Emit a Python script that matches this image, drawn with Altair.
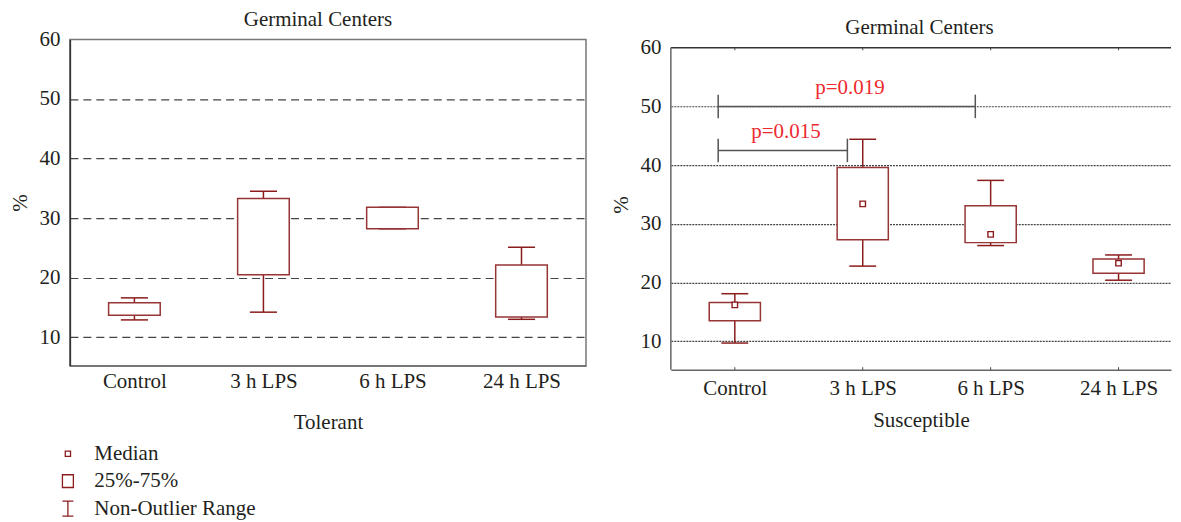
import json
import altair as alt
import pandas as pd

# ---------------- data ----------------
groups = ["Control", "3 h LPS", "6 h LPS", "24 h LPS"]

# Tolerant (left panel): non-outlier min, 25%, 75%, non-outlier max
tol_min = [12.9, 14.2, 28.2, 13.0]
tol_q1 = [13.7, 20.5, 28.2, 13.4]
tol_q3 = [15.8, 33.3, 31.8, 22.1]
tol_max = [16.6, 34.5, 31.8, 25.1]

# Susceptible (right panel)
sus_min = [9.7, 22.8, 26.3, 20.4]
sus_q1 = [13.5, 27.3, 26.8, 21.6]
sus_median = [16.2, 33.4, 28.2, 23.3]
sus_q3 = [16.6, 39.6, 33.1, 24.0]
sus_max = [18.1, 44.4, 37.4, 24.7]

# significance brackets (right panel)
cmp_from = ["Control", "Control"]
cmp_to = ["3 h LPS", "6 h LPS"]
cmp_y = [42.5, 50.0]
cmp_label = ["p=0.015", "p=0.019"]

legend_items = ["Median", "25%-75%", "Non-Outlier Range"]
y_ticks = [10, 20, 30, 40, 50, 60]

# ---------------- styles ----------------
FONT = "Liberation Serif"
TEXT = "#231f20"
BOX = "#973535"
WHISK = "#8b1c1c"
RED = "#ee2a2f"
FS = 21

idx = list(range(len(groups)))
label_expr = json.dumps(groups) + "[datum.value]"

tol_df = pd.DataFrame({"i": idx, "group": groups, "lo": tol_min, "q1": tol_q1,
                       "q3": tol_q3, "hi": tol_max})
sus_df = pd.DataFrame({"i": idx, "group": groups, "lo": sus_min, "q1": sus_q1,
                       "med": sus_median, "q3": sus_q3, "hi": sus_max})
cmp_df = pd.DataFrame({"a": [groups.index(g) for g in cmp_from],
                       "b": [groups.index(g) for g in cmp_to],
                       "y": cmp_y, "label": cmp_label})
leg_df = pd.DataFrame({"item": legend_items})

legend_shapes = [
    "M-0.35,-0.35H0.35V0.35H-0.35Z",
    "M-0.73,-0.85H0.73V0.85H-0.73Z",
    "M-0.73,-1H0.73M0,-1V1M-0.73,1H0.73",
]


def x_axis(title_text, label_pad, title_pad, domain_color):
    return alt.Axis(values=idx, labelExpr=label_expr, grid=False, ticks=False,
                    domainColor=domain_color, domainWidth=1.5,
                    labelFont=FONT, labelFontSize=FS, labelColor=TEXT,
                    labelPadding=label_pad, labelFlush=False, labelOverlap=False,
                    title=title_text, titleFont=FONT, titleFontSize=FS,
                    titleFontWeight="normal", titleColor=TEXT, titlePadding=title_pad)


def y_axis(grid_dash, grid_color, domain, label_pad, title_pad):
    return alt.Axis(values=y_ticks, grid=True, gridDash=grid_dash, gridColor=grid_color,
                    gridWidth=1.2,
                    gridOpacity={"condition": {"test": f"datum.value >= {y_ticks[-1]}",
                                               "value": 0}, "value": 1},
                    ticks=False, domain=domain, domainColor="#333",
                    domainWidth=1.5, labelFont=FONT, labelFontSize=FS, labelColor=TEXT,
                    labelPadding=label_pad, labelFlush=False,
                    title="%", titleFont=FONT, titleFontSize=FS,
                    titleFontWeight="normal", titleColor=TEXT, titlePadding=title_pad)


def legend_layer(xs, ys, lx, ly):
    return alt.Chart(leg_df).transform_calculate(
        px="0", py="30").transform_filter("false").mark_point().encode(
        x=alt.X("px:Q", scale=xs),
        y=alt.Y("py:Q", scale=ys),
        shape=alt.Shape("item:N",
                        scale=alt.Scale(domain=legend_items, range=legend_shapes),
                        legend=alt.Legend(orient="none", legendX=lx, legendY=ly,
                                          direction="vertical", title=None,
                                          labelFont=FONT, labelFontSize=FS,
                                          labelColor=TEXT, labelOffset=16,
                                          labelLimit=400,
                                          symbolSize=225, symbolStrokeColor=WHISK,
                                          symbolFillColor="white", symbolStrokeWidth=1.3,
                                          symbolOpacity=1, rowPadding=5.5, padding=0))
    )


def box_layers(df, xs, ys, xax, yax):
    base = alt.Chart(df).transform_calculate(
        bl="datum.i - 0.2", br="datum.i + 0.2",
        cl="datum.i - 0.105", cr="datum.i + 0.105")
    X = alt.X("i:Q", scale=xs, axis=xax)
    Y = alt.Y("hi:Q", scale=ys, axis=yax)
    w_up = base.mark_rule(color=WHISK, strokeWidth=1.5).encode(x=X, y=Y, y2="q3:Q")
    w_dn = base.mark_rule(color=WHISK, strokeWidth=1.5).encode(
        x=alt.X("i:Q", scale=xs), y=alt.Y("lo:Q", scale=ys), y2="q1:Q")
    cap_hi = base.mark_rule(color=WHISK, strokeWidth=1.5).encode(
        x=alt.X("cl:Q", scale=xs), x2="cr:Q", y=alt.Y("hi:Q", scale=ys))
    cap_lo = base.mark_rule(color=WHISK, strokeWidth=1.5).encode(
        x=alt.X("cl:Q", scale=xs), x2="cr:Q", y=alt.Y("lo:Q", scale=ys))
    box = base.mark_rect(fill="white", stroke=BOX, strokeWidth=1.5).encode(
        x=alt.X("bl:Q", scale=xs), x2="br:Q", y=alt.Y("q1:Q", scale=ys), y2="q3:Q")
    return [w_up, w_dn, cap_hi, cap_lo, box]


# ---------------- left panel (Tolerant) ----------------
xs_l = alt.Scale(domain=[-0.5, 3.5], nice=False, zero=False)
ys_l = alt.Scale(domain=[5.19, 60], nice=False, zero=False)

left = alt.layer(
    *box_layers(tol_df, xs_l, ys_l,
                x_axis("Tolerant", 5, 20, "#777"),
                y_axis([8, 5], "#444", True, 10, 8)),
    legend_layer(xs_l, ys_l, -12.5, 404.5),
).properties(
    width=517, height=327,
    title=alt.Title("Germinal Centers", font=FONT, fontSize=FS, fontWeight="normal",
                    color=TEXT, offset=-2, dx=-10, anchor="middle", frame="group"),
    view=alt.ViewBackground(stroke="#777", strokeWidth=1.5),
)

# ---------------- right panel (Susceptible) ----------------
XMAX_R = 3.41
YMIN_R, YMAX_R = 5.14, 61.41
xs_r = alt.Scale(domain=[-0.5, XMAX_R], nice=False, zero=False)
ys_r = alt.Scale(domain=[YMIN_R, YMAX_R], nice=False, zero=False)

frame = alt.Chart(pd.DataFrame({"v": [y_ticks[-1]]})).transform_calculate(
    xl="-0.5", xr=str(XMAX_R), yb=str(YMIN_R))
frame_top = frame.mark_rule(color="#333", strokeWidth=1.5).encode(
    x=alt.X("xl:Q", scale=xs_r), x2="xr:Q", y=alt.Y("v:Q", scale=ys_r))
frame_left = frame.mark_rule(color="#666", strokeWidth=1.5).encode(
    x=alt.X("xl:Q", scale=xs_r), y=alt.Y("yb:Q", scale=ys_r), y2="v:Q")

# small inward category ticks on the bottom and top frame lines
tick_base = alt.Chart(sus_df).transform_calculate(
    b0=str(YMIN_R), b1=str(YMIN_R + 0.45),
    t0=str(y_ticks[-1]), t1=str(y_ticks[-1] - 0.45))
tick_bot = tick_base.mark_rule(color="#444", strokeWidth=1).encode(
    x=alt.X("i:Q", scale=xs_r), y=alt.Y("b0:Q", scale=ys_r), y2="b1:Q")
tick_top = tick_base.mark_rule(color="#444", strokeWidth=1).encode(
    x=alt.X("i:Q", scale=xs_r), y=alt.Y("t0:Q", scale=ys_r), y2="t1:Q")

med = alt.Chart(sus_df).mark_square(size=30, fill="white", stroke=WHISK,
                                    strokeWidth=1.4, opacity=1).encode(
    x=alt.X("i:Q", scale=xs_r), y=alt.Y("med:Q", scale=ys_r))

br = alt.Chart(cmp_df).transform_calculate(
    x1="datum.a - 0.13", x2="datum.b - 0.12", xm="(datum.a + datum.b) / 2 - 0.1",
    ylo="datum.y - 2", yhi="datum.y + 2")
br_h = br.mark_rule(color="#555", strokeWidth=1.5).encode(
    x=alt.X("x1:Q", scale=xs_r), x2="x2:Q", y=alt.Y("y:Q", scale=ys_r))
br_l = br.mark_rule(color="#555", strokeWidth=1.5).encode(
    x=alt.X("x1:Q", scale=xs_r), y=alt.Y("ylo:Q", scale=ys_r), y2="yhi:Q")
br_r = br.mark_rule(color="#555", strokeWidth=1.5).encode(
    x=alt.X("x2:Q", scale=xs_r), y=alt.Y("ylo:Q", scale=ys_r), y2="yhi:Q")
br_t = br.mark_text(color=RED, font=FONT, fontSize=FS, baseline="alphabetic",
                    align="center", dy=-12.5).encode(
    x=alt.X("xm:Q", scale=xs_r), y=alt.Y("y:Q", scale=ys_r), text="label:N")

right = alt.layer(
    *box_layers(sus_df, xs_r, ys_r,
                x_axis("Susceptible", 8, 11, "#666"),
                y_axis([2, 1], "#444", False, 10, 8)),
    med, frame_top, frame_left, tick_bot, tick_top, br_h, br_l, br_r, br_t,
    legend_layer(xs_r, ys_r, 3.5, 404.5),
).properties(
    width=501, height=331,
    title=alt.Title("Germinal Centers", font=FONT, fontSize=FS, fontWeight="normal",
                    color=TEXT, offset=0, dy=1.7, dx=-1.5, anchor="middle",
                    frame="group"),
    view=alt.ViewBackground(stroke="transparent"),
)

chart = alt.hconcat(left, right, spacing=85, bounds="flush").configure(
    font=FONT, padding={"left": 1, "top": 0, "right": 0, "bottom": 0},
    background="white")

chart.save("out.html", embed_options={"renderer": "svg", "actions": False})
